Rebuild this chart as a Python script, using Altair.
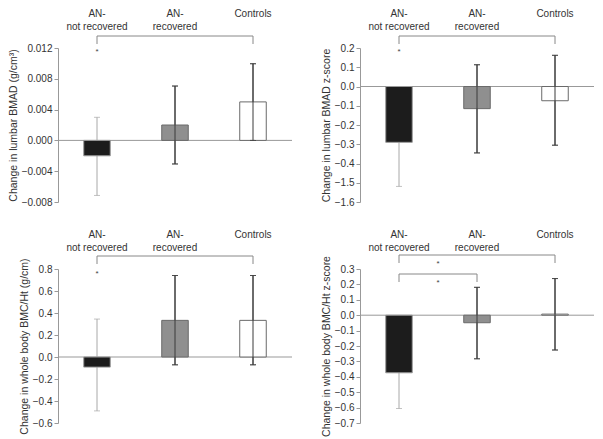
import altair as alt
import pandas as pd

groups = ["AN-\nnot recovered", "AN-\nrecovered", "Controls"]

# panel values: mean, lower error end, upper error end
bmad_mean = [-0.002, 0.002, 0.005]
bmad_lo = [-0.00715, -0.00306, 0.0]
bmad_hi = [0.003, 0.00706, 0.00996]

bmadz_mean = [-0.29, -0.115, -0.074]
bmadz_lo = [-0.519, -0.345, -0.305]
bmadz_hi = [-0.06, 0.113, 0.162]

bmc_mean = [-0.092, 0.333, 0.333]
bmc_lo = [-0.49, -0.071, -0.071]
bmc_hi = [0.345, 0.741, 0.741]

bmcz_mean = [-0.374, -0.049, 0.007]
bmcz_lo = [-0.606, -0.283, -0.226]
bmcz_hi = [-0.14, 0.181, 0.238]

fills = ["#1c1c1c", "#8f8f8f", "#ffffff"]
strokes = ["#9a9a9a", "#6a6a6a", "#6a6a6a"]
err_colors = ["#a8a8a8", "#3a3a3a", "#3a3a3a"]

W, H = 234, 154
FONT = "Liberation Sans"


def panel(mean, lo, hi, domain, step, title, label_expr, brackets, stars):
    df = pd.DataFrame({"g": groups, "v": mean, "lo": lo, "hi": hi,
                       "fill": fills, "stroke": strokes, "ec": err_colors,
                       "i": [0, 1, 2]})
    xs = alt.Scale(domain=groups, paddingInner=0.66, paddingOuter=0.33)
    ys = alt.Scale(domain=domain, nice=False, zero=False)
    vals = []
    n = int(round((domain[1] - domain[0]) / step))
    for k in range(n + 1):
        vals.append(round(domain[0] + k * step, 6))
    xaxis = alt.Axis(orient="top", domain=False, ticks=False, labelAngle=0,
                     labelPadding=30, title=None, labelFont=FONT,
                     labelFontSize=10, labelColor="#333",
                     labelExpr="split(datum.value, '\\n')", labelLineHeight=13,
                     labelBaseline="bottom")
    yaxis = alt.Axis(values=vals, labelExpr=label_expr, title=title, grid=False,
                     domainColor="#999", tickColor="#999", tickSize=4,
                     labelFont=FONT, labelFontSize=10, labelColor="#333",
                     labelOverlap=False, labelFlush=False, tickCount=n + 1,
                     labelPadding=2, titleFont=FONT, titleFontSize=10.5,
                     titleFontWeight="normal", titleColor="#333", titlePadding=3)
    base = alt.Chart(df)
    X = alt.X("g:N", scale=xs, axis=xaxis, sort=groups)
    err_back = base.mark_rule(strokeWidth=1).encode(
        x=X,
        y=alt.Y("lo:Q", scale=ys, axis=yaxis),
        y2="hi:Q",
        color=alt.Color("ec:N", scale=None),
    )
    caps_back = base.mark_tick(size=6, thickness=1).transform_fold(["lo", "hi"], as_=["k", "e"]).encode(
        x=X,
        y=alt.Y("e:Q", scale=ys, axis=yaxis),
        color=alt.Color("ec:N", scale=None),
    )
    zero = alt.Chart(pd.DataFrame({"z": [0]})).mark_rule(color="#999", strokeWidth=1).encode(
        y=alt.Y("z:Q", scale=ys, axis=yaxis), x=alt.value(0), x2=alt.value(W))
    bars = base.mark_bar(strokeWidth=1).encode(
        x=X,
        y=alt.Y("v:Q", scale=ys, axis=yaxis),
        y2=alt.datum(0),
        fill=alt.Fill("fill:N", scale=None),
        stroke=alt.Stroke("stroke:N", scale=None),
    )
    err_front = err_back.transform_filter("datum.i > 0")
    caps_front = caps_back.transform_filter("datum.i > 0")

    layers = [zero, err_back, caps_back, bars, err_front, caps_front]
    for (a, b, ytop, ybot) in brackets:
        bd = pd.DataFrame({"a": [groups[a]], "b": [groups[b]]})
        bc = alt.Chart(bd)
        layers.append(bc.mark_rule(color="#888", strokeWidth=1).encode(
            x=alt.X("a:N", scale=xs, axis=xaxis, sort=groups), x2="b:N",
            y=alt.value(ytop)))
        layers.append(bc.mark_rule(color="#888", strokeWidth=1).encode(
            x=alt.X("a:N", scale=xs, axis=xaxis, sort=groups), y=alt.value(ytop), y2=alt.value(ybot)))
        layers.append(bc.mark_rule(color="#888", strokeWidth=1).encode(
            x=alt.X("b:N", scale=xs, axis=xaxis, sort=groups), y=alt.value(ytop), y2=alt.value(ybot)))
    for (a, dx, yy) in stars:
        sd = pd.DataFrame({"a": [groups[a]], "t": ["*"]})
        layers.append(alt.Chart(sd).mark_text(fontSize=8, color="#444", dx=dx,
                                              baseline="middle", font=FONT).encode(
            x=alt.X("a:N", scale=xs, axis=xaxis, sort=groups), y=alt.value(yy), text="t:N"))
    return alt.layer(*layers).properties(width=W, height=H)


fmt3 = "format(datum.value, '.3f')"
fmt1 = "format(datum.value, '.1f')"
fmtz = "datum.value < -0.55 ? '\u22121.6' : (datum.value < -0.45 ? '\u22121.5' : format(datum.value, '.1f'))"

tl = panel(bmad_mean, bmad_lo, bmad_hi, [-0.008, 0.012], 0.004,
           "Change in lumbar BMAD (g/cm\u00b3)", fmt3,
           [(0, 2, -12, -4)], [(0, 0, 4)])
tr = panel(bmadz_mean, bmadz_lo, bmadz_hi, [-0.6, 0.2], 0.1,
           "Change in lumbar BMAD z-score", fmtz,
           [(0, 2, -12, -4)], [(0, 0, 4)])
bl = panel(bmc_mean, bmc_lo, bmc_hi, [-0.6, 0.8], 0.2,
           "Change in whole body BMC/Ht (g/cm)", fmt1,
           [(0, 2, -13, -5)], [(0, 0, 5)])
br = panel(bmcz_mean, bmcz_lo, bmcz_hi, [-0.7, 0.3], 0.1,
           "Change in whole body BMC/Ht z-score", fmt1,
           [(0, 2, -14, -6), (0, 1, 5, 13)], [(0, 39, -5), (0, 39, 14)])

chart = alt.concat(tl, tr, bl, br, columns=2,
                   spacing=alt.RowColnumber(row=22, column=28)).properties(
    padding={"left": 0, "top": 0, "right": 0, "bottom": 0}
).configure_view(stroke=None).configure_axisY(labelOverlap=False)

chart.save("out.html", embed_options={"renderer": "svg", "actions": False})
